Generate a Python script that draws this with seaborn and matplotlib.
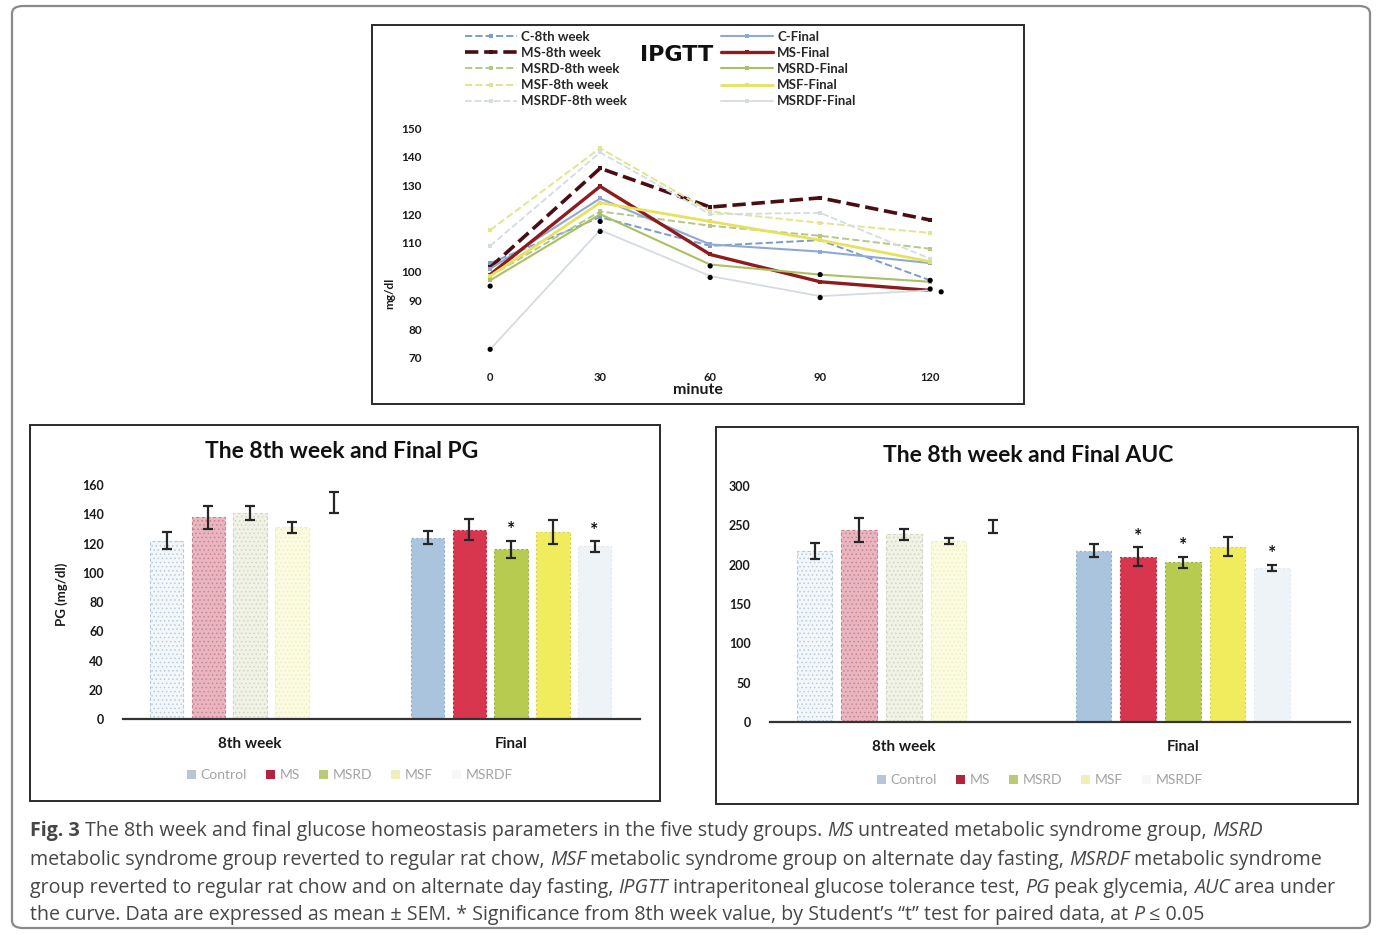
import numpy as np
import pandas as pd
import matplotlib
matplotlib.use("Agg")
import matplotlib.pyplot as plt
import seaborn as sns
from matplotlib.patches import FancyBboxPatch, Rectangle, Patch
from matplotlib.font_manager import FontProperties

# ---------------- data ----------------
minutes = [0, 30, 60, 90, 120]
c_8th = [103, 119, 109, 111, 97]
ms_8th = [101.5, 136, 122.5, 125.7, 118]
msrd_8th = [98.5, 121, 116, 112.5, 108]
msf_8th = [114.5, 143, 121, 117, 113.5]
msrdf_8th = [109, 141.5, 120, 120.5, 104.5]
c_final = [101, 125.5, 109.5, 107, 103]
ms_final = [99, 129.7, 106, 96.5, 93.5]
msrd_final = [97, 120, 102.5, 99, 96.5]
msf_final = [98.5, 124, 117.5, 111, 103.5]
msrdf_final = [73, 114.5, 98.5, 91.5, 93.5]
sig_minutes = [0, 0, 30, 30, 60, 60, 90, 90, 120, 120, 123]
sig_values = [95, 73, 117.5, 114, 102, 98, 99, 91, 97, 94, 93]

line_labels = ["C-8th week", "MS-8th week", "MSRD-8th week", "MSF-8th week", "MSRDF-8th week",
               "C-Final", "MS-Final", "MSRD-Final", "MSF-Final", "MSRDF-Final"]

periods = ["8th week", "Final"]
groups = ["Control", "MS", "MSRD", "MSF", "MSRDF"]
pg_8th = [122, 138, 141, 131, 148]
pg_8th_sem = [6, 8, 5, 4, 7]
pg_final = [124, 129.5, 116, 128, 118]
pg_final_sem = [4.5, 7, 6, 8, 3.5]
pg_final_sig = [0, 0, 1, 0, 1]
auc_8th = [218, 244, 239, 230, 249]
auc_8th_sem = [10, 15, 7, 4, 8]
auc_final = [218, 210, 203, 223, 196]
auc_final_sem = [8, 12, 7, 12, 4]
auc_final_sig = [0, 1, 1, 0, 1]

# ---------------- style ----------------
sns.set_theme(style="white")
plt.rcParams["font.family"] = ["Lato", "DejaVu Sans"]
plt.rcParams["hatch.linewidth"] = 0.6

W, H = 1379, 935
fig = plt.figure(figsize=(W / 100, H / 100), dpi=100)
fig.patch.set_facecolor("white")


def fbox(x0, y0, x1, y1):
    return [x0 / W, 1 - y1 / H, (x1 - x0) / W, (y1 - y0) / H]


def fpt(x, y):
    return (x / W, 1 - y / H)


# outer frame and panel boxes
fig.patches.append(FancyBboxPatch(fpt(12, 928), (1358) / W, (922) / H,
                                  boxstyle="round,pad=0,rounding_size=0.008",
                                  transform=fig.transFigure, fill=False,
                                  edgecolor="#8a8a8a", lw=1.6))
for (x0, y0, x1, y1) in [(372, 25, 1024, 404), (30, 425, 660, 801), (716, 427, 1358, 804)]:
    fig.patches.append(Rectangle(fpt(x0, y1), (x1 - x0) / W, (y1 - y0) / H,
                                 transform=fig.transFigure, fill=False,
                                 edgecolor="#2a2a2a", lw=1.4))

# ---------------- IPGTT line chart ----------------
ax1 = fig.add_axes(fbox(430, 120, 965, 368))
line_series = [c_8th, ms_8th, msrd_8th, msf_8th, msrdf_8th,
               c_final, ms_final, msrd_final, msf_final, msrdf_final]
line_colors = ["#7d9cc9", "#4a0d12", "#b3c98a", "#e3e48f", "#d3dbe5",
               "#8eaad0", "#8e1b1e", "#a9c163", "#e6e25e", "#d5dbe2"]
line_styles = ["--"] * 5 + ["-"] * 5
line_widths = [1.4, 2.6, 1.4, 1.4, 1.3, 1.5, 2.4, 1.5, 2.0, 1.3]
for vals, lab, col, ls, lw in zip(line_series, line_labels, line_colors, line_styles, line_widths):
    sns.lineplot(x=minutes, y=vals, ax=ax1, color=col, linestyle=ls, lw=lw,
                 marker="s", markersize=3, markeredgewidth=0, label=lab)
sns.scatterplot(x=sig_minutes, y=sig_values, ax=ax1, color="black", s=14,
                zorder=6, legend=False, edgecolor="none")
ax1.set_xlim(-16.4, 129.5)
ax1.set_ylim(66.5, 152.8)
ax1.set_xticks(minutes)
ax1.set_yticks(range(70, 151, 10))
for s in ax1.spines.values():
    s.set_visible(False)
ax1.tick_params(axis="y", length=0, labelsize=8.5, pad=6, colors="#1a1a1a")
ax1.tick_params(axis="x", length=0, labelsize=8, pad=3, colors="#1a1a1a")
for t in ax1.get_yticklabels() + ax1.get_xticklabels():
    t.set_fontweight("bold")
ax1.set_xlabel("minute", fontsize=11.5, fontweight="bold", labelpad=0, color="#1a1a1a")
ax1.set_ylabel("mg/dl", fontsize=8.5, fontweight="bold", color="#1a1a1a", labelpad=4)
ax1.yaxis.set_label_coords(-0.065, 0.3)
handles, labels = ax1.get_legend_handles_labels()
leg_kw = dict(frameon=False, loc="upper left", bbox_transform=fig.transFigure,
              handlelength=4.0, handletextpad=0.3, labelspacing=0.32,
              borderpad=0, prop={"weight": "bold", "size": 9.5})
leg1 = ax1.legend(handles[:5], labels[:5], bbox_to_anchor=fpt(458, 24), **leg_kw)
ax1.add_artist(leg1)
ax1.legend(handles[5:], labels[5:], bbox_to_anchor=fpt(714, 24), **leg_kw)
fig.text(*fpt(677, 55), "IPGTT", fontsize=16, fontweight="bold", family="DejaVu Sans",
         ha="center", va="center", color="#111111")

# ---------------- bar charts ----------------
final_colors = ["#a9c4dc", "#d8354f", "#b6cb4f", "#f0ec5e", "#eef3f7"]
final_edges = ["#8fb0cc", "#b82a40", "#9bb03c", "#d8d44a", "#e3e9ee"]
week_colors = ["#f3f7fa", "#e9b6c0", "#f1f2e6", "#fbfbe0", "#ffffff"]
week_edges = ["#b9cbdc", "#c98392", "#d4d6c2", "#eeeec6", "#ffffff"]
legend_colors = ["#b8c6d3", "#b3243c", "#b9cc74", "#eef0b8", "#f6f7f8"]


def bar_panel(box, xlim, ylim, yticks, week_vals, week_sem, fin_vals, fin_sem, fin_sig,
              title, title_xy, ylabel, legend_xy):
    ax = fig.add_axes(fbox(*box))
    df = pd.DataFrame({
        "period": [periods[0]] * 5 + [periods[1]] * 5,
        "group": groups * 2,
        "value": week_vals + fin_vals,
    })
    sns.barplot(data=df, x="period", y="value", hue="group", order=periods,
                hue_order=groups, palette=final_colors, width=0.8, gap=0.2,
                errorbar=None, legend=False, ax=ax)
    bars = sorted(ax.patches, key=lambda p: p.get_x())
    for i, p in enumerate(bars):
        k = i % 5
        if i < 5:
            p.set_facecolor(week_colors[k])
            p.set_edgecolor(week_edges[k])
            p.set_hatch("....")
            p.set_linestyle((0, (3, 2)))
            p.set_linewidth(0.8)
        else:
            p.set_facecolor(final_colors[k])
            p.set_edgecolor(final_edges[k])
            p.set_linestyle((0, (2, 2)))
            p.set_linewidth(0.8)
    centers = [p.get_x() + p.get_width() / 2 for p in bars]
    means = week_vals + fin_vals
    sems = week_sem + fin_sem
    ax.errorbar(centers, means, yerr=sems, fmt="none", ecolor="#262626",
                elinewidth=1.6, capsize=3.5, capthick=1.6, zorder=5)
    for c, m, s, sg in zip(centers[5:], fin_vals, fin_sem, fin_sig):
        if sg:
            ax.annotate("*", (c, m + s), xytext=(0, 2), textcoords="offset points",
                        ha="center", va="bottom", fontsize=14, fontweight="bold",
                        color="#111111")
    ax.set_xlim(*xlim)
    ax.set_ylim(*ylim)
    ax.set_yticks(yticks)
    for side in ["top", "right", "left"]:
        ax.spines[side].set_visible(False)
    ax.spines["bottom"].set_color("#333333")
    ax.spines["bottom"].set_linewidth(1.6)
    ax.tick_params(length=0, colors="#1a1a1a")
    ax.tick_params(axis="y", labelsize=9, pad=14)
    ax.tick_params(axis="x", labelsize=11, pad=13)
    for t in ax.get_yticklabels() + ax.get_xticklabels():
        t.set_fontweight("bold")
    ax.set_xlabel("")
    ax.set_ylabel(ylabel, fontsize=9.5, fontweight="bold", color="#1a1a1a", labelpad=10)
    fig.text(*fpt(*title_xy), title, fontsize=16.5, fontweight="bold",
             ha="center", va="center", color="#111111")
    hnd = [Patch(facecolor=fc, edgecolor="none") for fc in legend_colors]
    ax.legend(hnd, groups, loc="center", bbox_to_anchor=fpt(*legend_xy),
              bbox_transform=fig.transFigure, ncol=5, frameon=False, fontsize=10,
              handlelength=0.6, handleheight=0.6, handletextpad=0.35, columnspacing=1.4,
              labelcolor="#a3a3a3")
    return ax


bar_panel((123, 470, 640, 719), (-0.487, 1.494), (0, 170.3), range(0, 161, 20),
          pg_8th, pg_8th_sem, pg_final, pg_final_sem, pg_final_sig,
          "The 8th week and Final PG", (342, 452), "PG (mg/dl)", (350, 775))
bar_panel((770, 474, 1350, 722), (-0.48, 1.599), (0, 315.5), range(0, 301, 50),
          auc_8th, auc_8th_sem, auc_final, auc_final_sem, auc_final_sig,
          "The 8th week and Final AUC", (1028, 456), "", (1040, 780))

# ---------------- caption ----------------
cap_lines = [
    [("Fig. 3", "b"), (" The 8th week and final glucose homeostasis parameters in the five study groups. ", "n"),
     ("MS", "i"), (" untreated metabolic syndrome group, ", "n"), ("MSRD", "i")],
    [("metabolic syndrome group reverted to regular rat chow, ", "n"), ("MSF", "i"),
     (" metabolic syndrome group on alternate day fasting, ", "n"), ("MSRDF", "i"),
     (" metabolic syndrome", "n")],
    [("group reverted to regular rat chow and on alternate day fasting, ", "n"), ("IPGTT", "i"),
     (" intraperitoneal glucose tolerance test, ", "n"), ("PG", "i"), (" peak glycemia, ", "n"),
     ("AUC", "i"), (" area under", "n")],
    [("the curve. Data are expressed as mean \u00b1 SEM. * Significance from 8th week value, by Student\u2019s \u201ct\u201d test for paired data, at ", "n"),
     ("P", "i"), (" \u2264 0.05", "n")],
]
cap_right = [1277, 1335, 1315, 1210]
cap_y = [836, 865, 893, 920]
cap_x0 = 30
cap_family = ["Open Sans", "DejaVu Sans"]
renderer = fig.canvas.get_renderer()


def seg_prop(style, size):
    return FontProperties(family=cap_family, size=size,
                          weight="bold" if style == "b" else "normal",
                          style="italic" if style == "i" else "normal")


def seg_width(text, style, size):
    prop = seg_prop(style, size)
    w_full, _, _ = renderer.get_text_width_height_descent("|" + text + "|", prop, ismath=False)
    w_bars, _, _ = renderer.get_text_width_height_descent("||", prop, ismath=False)
    return w_full - w_bars


ratios = []
for segs, xr in zip(cap_lines, cap_right):
    total = sum(seg_width(t, s, 10) for t, s in segs)
    ratios.append((xr - cap_x0) / total)
cap_size = 10 * float(np.mean(ratios))

for segs, y in zip(cap_lines, cap_y):
    x = cap_x0
    for t, s in segs:
        fig.text(*fpt(x, y), t, fontproperties=seg_prop(s, cap_size),
                 color="#474747", ha="left", va="baseline")
        x += seg_width(t, s, cap_size)

fig.savefig("out.png", dpi=100, facecolor="white")
